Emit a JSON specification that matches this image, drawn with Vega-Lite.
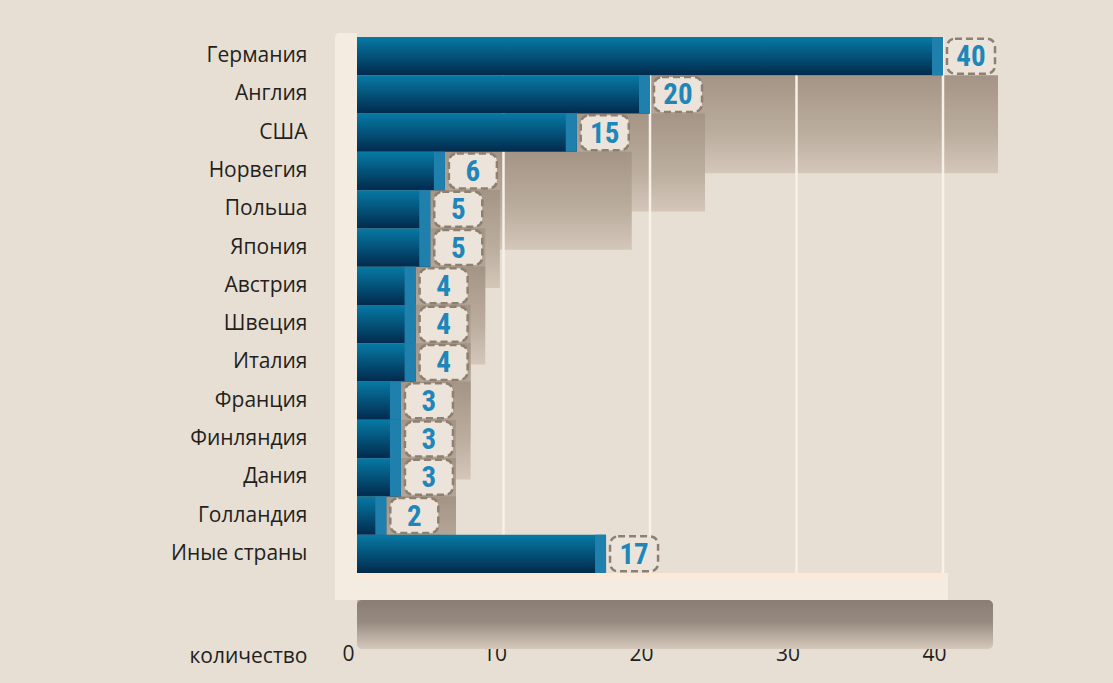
{
  "$schema": "https://vega.github.io/schema/vega-lite/v6.json",
  "width": 586,
  "height": 536,
  "autosize": "none",
  "padding": {"left": 357, "top": 37, "right": 170, "bottom": 110},
  "background": "#e8dfd4",
  "config": {"view": {"stroke": null}, "font": "Open Sans"},
  "data": {
    "values": [
      {"country": "Германия", "value": 40},
      {"country": "Англия", "value": 20},
      {"country": "США", "value": 15},
      {"country": "Норвегия", "value": 6},
      {"country": "Польша", "value": 5},
      {"country": "Япония", "value": 5},
      {"country": "Австрия", "value": 4},
      {"country": "Швеция", "value": 4},
      {"country": "Италия", "value": 4},
      {"country": "Франция", "value": 3},
      {"country": "Финляндия", "value": 3},
      {"country": "Дания", "value": 3},
      {"country": "Голландия", "value": 2},
      {"country": "Иные страны", "value": 17}
    ]
  },
  "layer": [
    {
      "transform": [{"filter": "datum.country !== 'Иные страны'"}],
      "mark": {
        "type": "bar",
        "size": 98,
        "yOffset": 68,
        "xOffset": 55,
        "color": {"gradient": "linear", "x1": 0, "y1": 0, "x2": 0, "y2": 1,
          "stops": [{"offset": 0, "color": "#a49485"}, {"offset": 0.6, "color": "#bcae9f"}, {"offset": 1, "color": "#d4c6b9"}]}
      },
      "encoding": {
        "x": {
          "field": "value", "type": "quantitative",
          "scale": {"domain": [0, 40], "nice": false},
          "axis": {
            "grid": false, "ticks": false, "domain": false,
            "values": [0, 10, 20, 30, 40], "labelFlush": false,
            "labelFontSize": 21, "labelColor": "#231f20", "labelPadding": 70, "labelOffset": -9,
            "labelFont": "Open Sans",
            "title": "количество", "titleX": -50, "titleY": 89, "titleAlign": "right",
            "titleBaseline": "alphabetic", "titleFontWeight": "normal", "titleFontSize": 21,
            "titleColor": "#231f20", "titleFont": "Open Sans", "titleAngle": 0
          }
        },
        "x2": {"datum": 0},
        "y": {
          "field": "country", "type": "nominal", "sort": null,
          "scale": {"paddingInner": 0, "paddingOuter": 0},
          "axis": {
            "ticks": false, "domain": false, "title": null,
            "labelFontSize": 21, "labelColor": "#231f20", "labelPadding": 50, "labelFont": "Open Sans"
          }
        }
      }
    },
    {
      "data": {"values": [{"g": 10}, {"g": 20}, {"g": 30}, {"g": 40}]},
      "mark": {"type": "rule", "color": "#f8f1e7", "strokeWidth": 2.5},
      "encoding": {"x": {"field": "g", "type": "quantitative"}}
    },
    {
      "data": {"values": [{"part": "wall"}]},
      "mark": {"type": "rect", "xOffset": -22, "x2Offset": 0, "yOffset": -4, "y2Offset": 27, "color": "#f5ece1", "cornerRadiusTopLeft": 4},
      "encoding": {
        "x": {"datum": 0, "type": "quantitative"},
        "x2": {"datum": 0},
        "y": {"datum": "Германия", "type": "nominal", "bandPosition": 0},
        "y2": {"value": "height"}
      }
    },
    {
      "mark": {
        "type": "bar",
        "color": {"gradient": "linear", "x1": 0, "y1": 0, "x2": 0, "y2": 1,
          "stops": [{"offset": 0, "color": "#067aa5"}, {"offset": 1, "color": "#022a4d"}]}
      },
      "encoding": {
        "x": {"field": "value", "type": "quantitative"},
        "x2": {"datum": 0},
        "y": {"field": "country", "type": "nominal", "sort": null}
      }
    },
    {
      "mark": {"type": "bar", "xOffset": 0, "x2Offset": -11, "color": "#1f80ae"},
      "encoding": {
        "x": {"field": "value", "type": "quantitative"},
        "x2": {"field": "value"},
        "y": {"field": "country", "type": "nominal", "sort": null}
      }
    },
    {
      "data": {"values": [{"part": "floor"}]},
      "mark": {
        "type": "rect", "xOffset": 0, "x2Offset": 50, "yOffset": 27, "y2Offset": 76, "cornerRadius": 5,
        "color": {"gradient": "linear", "x1": 0, "y1": 0, "x2": 0, "y2": 1,
          "stops": [{"offset": 0, "color": "#8a7d73"}, {"offset": 0.45, "color": "#978a7f"}, {"offset": 1, "color": "#d6c9bc"}]}
      },
      "encoding": {
        "x": {"datum": 0, "type": "quantitative"},
        "x2": {"datum": 40},
        "y": {"value": "height"},
        "y2": {"value": "height"}
      }
    },
    {
      "data": {"values": [{"part": "floor"}]},
      "mark": {"type": "rect", "xOffset": -22, "x2Offset": 5, "yOffset": 0, "y2Offset": 27, "color": "#f5ece1"},
      "encoding": {
        "x": {"datum": 0, "type": "quantitative"},
        "x2": {"datum": 40},
        "y": {"value": "height"},
        "y2": {"value": "height"}
      }
    },
    {
      "data": {"values": [{"part": "floor"}]},
      "mark": {"type": "rect", "xOffset": 0, "x2Offset": 5, "yOffset": 0, "y2Offset": 4, "color": "#fde9d6"},
      "encoding": {
        "x": {"datum": 0, "type": "quantitative"},
        "x2": {"datum": 40},
        "y": {"value": "height"},
        "y2": {"value": "height"}
      }
    },
    {
      "mark": {
        "type": "bar", "size": 35, "xOffset": 4, "x2Offset": 52, "cornerRadius": 8,
        "fill": "#ece4da", "stroke": "#8d8071", "strokeWidth": 2.5, "strokeDash": [7, 4]
      },
      "encoding": {
        "x": {"field": "value", "type": "quantitative"},
        "x2": {"field": "value"},
        "y": {"field": "country", "type": "nominal", "sort": null}
      }
    },
    {
      "mark": {
        "type": "text", "xOffset": 28, "yOffset": 1, "align": "center", "baseline": "middle",
        "font": "Roboto Condensed, Roboto", "fontSize": 29, "fontWeight": "bold",
        "color": "#1f86b9"
      },
      "encoding": {
        "x": {"field": "value", "type": "quantitative"},
        "y": {"field": "country", "type": "nominal", "sort": null},
        "text": {"field": "value", "type": "quantitative"}
      }
    }
  ]
}
